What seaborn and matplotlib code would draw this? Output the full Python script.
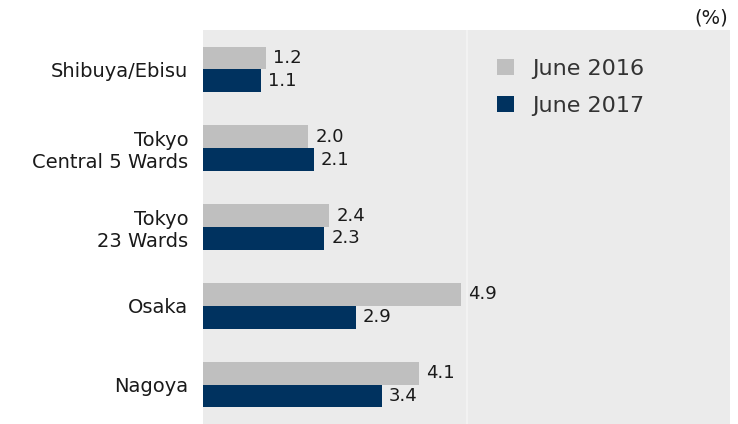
import matplotlib
matplotlib.use("Agg")
import matplotlib.pyplot as plt
import pandas as pd
import seaborn as sns

# Office vacancy rates by area (%)
regions = ["Shibuya/Ebisu", "Tokyo\nCentral 5 Wards", "Tokyo\n23 Wards", "Osaka", "Nagoya"]
periods = ["June 2016", "June 2017"]
june_2016 = [1.2, 2.0, 2.4, 4.9, 4.1]
june_2017 = [1.1, 2.1, 2.3, 2.9, 3.4]
bar_colors = ["#bfbfbf", "#00325f"]

df = pd.DataFrame({
    "region": regions * 2,
    "period": [periods[0]] * len(regions) + [periods[1]] * len(regions),
    "rate": june_2016 + june_2017,
})

sns.set_theme(style="white")
plt.rcParams["font.family"] = ["DejaVu Sans"]
text_color = "#1a1a1a"

fig = plt.figure(figsize=(7.38, 4.24), dpi=100)
ax = fig.add_axes([203 / 738, 0.0, (730 - 203) / 738, 1 - 30 / 424])
ax.set_facecolor("#ebebeb")

sns.barplot(
    data=df, y="region", x="rate", hue="period", order=regions,
    hue_order=periods, palette=bar_colors, orient="h", width=0.58,
    saturation=1, linewidth=0, ax=ax, zorder=3,
)

for cont in ax.containers:
    ax.bar_label(cont, fmt="%.1f", padding=5, fontsize=13, color=text_color)

ax.set_xlim(0, 10)
ax.set_ylim(len(regions) - 0.5, -0.5)
ax.set_xticks([5])
ax.xaxis.grid(True, color="#f4f4f4", linewidth=1.2, zorder=0)
ax.tick_params(axis="x", length=0, labelbottom=False)
ax.tick_params(axis="y", length=0, pad=10.5, labelsize=14, labelcolor=text_color)
ax.set_xlabel("")
ax.set_ylabel("")
for sp in ax.spines.values():
    sp.set_visible(False)

ax.legend(
    loc="upper left", bbox_to_anchor=(497 / 738, 1 - 59 / 424),
    bbox_transform=fig.transFigure, frameon=False, fontsize=16,
    handlelength=0.75, handleheight=0.75, handletextpad=0.85,
    labelspacing=0.75, borderpad=0, borderaxespad=0, labelcolor="#333333",
)

fig.text(728 / 738, 1 - 18 / 424, "(%)", ha="right", va="center",
         fontsize=14, color=text_color)

fig.savefig("out.png", dpi=100)
